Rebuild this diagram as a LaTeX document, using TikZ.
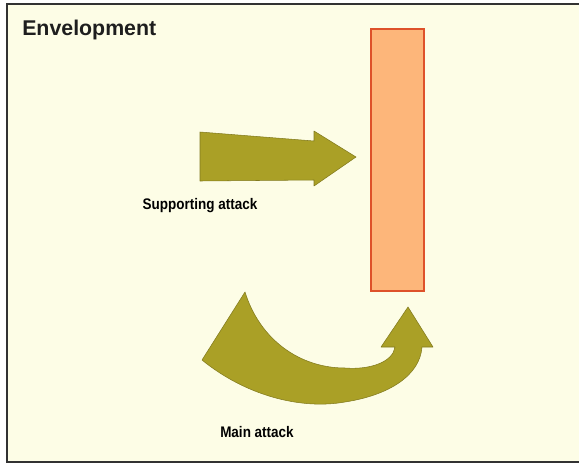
\documentclass[tikz,border=0pt]{standalone}
\usepackage{fontspec}
\setmainfont{Liberation Sans}
\definecolor{cream}{RGB}{253,253,230}
\definecolor{olive}{RGB}{170,160,38}
\definecolor{olivedark}{RGB}{130,122,30}
\definecolor{barfill}{RGB}{253,182,122}
\definecolor{barline}{RGB}{222,82,42}
\definecolor{framec}{RGB}{50,50,50}
\tikzset{
  arrowshape/.style={fill=olive, draw=olivedark, line width=0.4pt, line join=round},
  lbl/.style={font=\fontsize{11.5}{13}\selectfont\bfseries, text=black, inner sep=0pt, xscale=0.88, transform shape}
}
\begin{document}
\begin{tikzpicture}[x=0.75pt,y=-0.75pt]
\useasboundingbox (0,0) rectangle (579,465);
\fill[white] (0,0) rectangle (579,465);
\fill[cream] (7,4) rectangle (579,462);
\draw[framec, line width=1.2pt] (579,4) coordinate (fr) -- (7,4) -- (7,462) -- (579,462);
\node[anchor=base west, inner sep=0pt, font=\fontsize{16}{18}\selectfont\bfseries, text={rgb,255:red,30;green,30;blue,30}] (title) at (22,35) {Envelopment};
% enemy line
\node[draw=barline, fill=barfill, line width=1pt, minimum width=53*0.75pt, minimum height=262*0.75pt, inner sep=0pt] (bar) at (397.5,160) {};
% supporting attack arrow
\draw[arrowshape] (200,132) -- (314,141) -- (314,131) -- (356,157) -- (314,186) -- (314,180) -- (200,181) -- cycle;
\node[lbl] (sup) at (200,206) {Supporting attack};
% main attack arrow
\draw[arrowshape] (245,292) -- (202,360)
  .. controls (245,395) and (300,410) .. (345,402)
  .. controls (390,395) and (420,375) .. (422,347)
  -- (433,347) -- (408,307) -- (381,347) -- (395,347)
  .. controls (393,362) and (370,370) .. (345,368)
  .. controls (300,368) and (260,340) .. (245,292) -- cycle;
\node[lbl] (main) at (257,432) {Main attack};
\end{tikzpicture}
\end{document}
